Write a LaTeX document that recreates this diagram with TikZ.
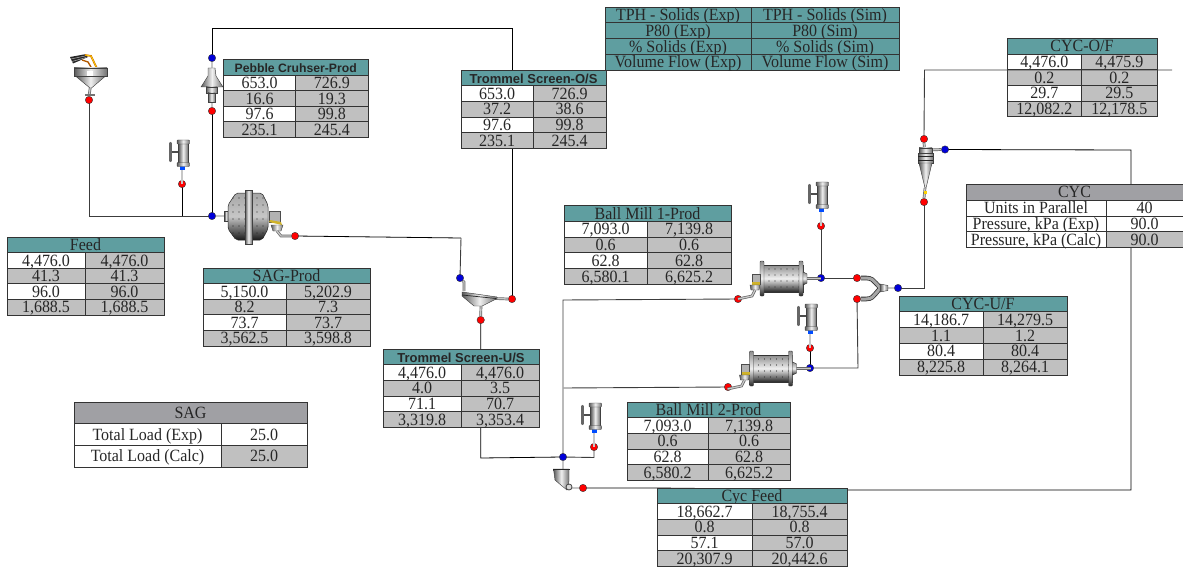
\documentclass[tikz,border=0pt]{standalone}
\usepackage{fontspec}
\setmainfont[FakeStretch=.93]{Liberation Serif}
\newfontfamily\hsans{Liberation Sans}
\usetikzlibrary{backgrounds}
\definecolor{tealhead}{HTML}{5F9EA0}
\definecolor{grayhead}{HTML}{A0A0A4}
\definecolor{cellgray}{HTML}{C0C0C0}
\definecolor{pipedark}{HTML}{3C3C3C}
\newcommand\fsz{\fontsize{17.2}{17}\selectfont}
\newcommand\tsm{\hsans\bfseries\fontsize{12.2}{12}\selectfont}
\newcommand\tmd{\hsans\bfseries\fontsize{13}{13}\selectfont}
\tikzset{
  x=1pt,y=-1pt,
  cell/.style={draw=black!80,line width=.95pt,inner sep=0pt,text height=11.6pt,text depth=.3pt,align=center,font=\fsz,text=black!85},
  redp/.style={circle,draw=black!80,line width=.4pt,fill=red,minimum size=7.4pt,inner sep=0pt},
  bluep/.style={circle,draw=black!80,line width=.4pt,fill=blue!85!black,minimum size=7.4pt,inner sep=0pt},
  conn/.style={draw=black,line width=.8pt},
  conng/.style={draw=pipedark,line width=.9pt},
  stub/.style={draw=black!60,double=black!22,double distance=1.3pt,line width=.7pt},
  metal/.style={draw=black!75,line width=.45pt,left color=black!65,right color=black!55,middle color=black!6},
  drum/.style={draw=black!80,line width=.45pt,top color=black!45,bottom color=black!85,middle color=black!6},
  sagbody/.style={draw=black!85,line width=.5pt,top color=black!35,bottom color=black!90,middle color=black!22},
}
% table helpers -----------------------------------------------------
\newcommand\tabstart[7]{% name x0 xm x1 y0 rowh titlefill
  \gdef\tn{#1}\gdef\txa{#2}\gdef\txm{#3}\gdef\txb{#4}\gdef\tyc{#5}\gdef\trh{#6}\gdef\trn{0}\gdef\tfl{#7}}
\newcommand\tabtitle[2]{% font, text
  \pgfmathsetmacro\tw{\txb-\txa}\pgfmathsetmacro\cx{(\txa+\txb)/2}\pgfmathsetmacro\cy{\tyc+\trh/2}
  \node[cell,fill=\tfl,minimum width=\tw pt,minimum height=\trh pt,font=#1] (\tn-t) at (\cx,\cy) {#2};
  \pgfmathsetmacro\ny{\tyc+\trh}\xdef\tyc{\ny}}
\newcommand\tabrow[4]{% left fill, right fill, left, right
  \pgfmathsetmacro\wl{\txm-\txa}\pgfmathsetmacro\wr{\txb-\txm}
  \pgfmathsetmacro\cl{(\txa+\txm)/2}\pgfmathsetmacro\cr{(\txm+\txb)/2}
  \pgfmathsetmacro\cy{\tyc+\trh/2}
  \pgfmathtruncatemacro\nr{\trn+1}\xdef\trn{\nr}
  \node[cell,fill=#1,minimum width=\wl pt,minimum height=\trh pt] (\tn-\trn l) at (\cl,\cy) {#3};
  \node[cell,fill=#2,minimum width=\wr pt,minimum height=\trh pt] (\tn-\trn r) at (\cr,\cy) {#4};
  \pgfmathsetmacro\ny{\tyc+\trh}\xdef\tyc{\ny}}
\newcommand\stdrows[8]{%
  \tabrow{white}{cellgray}{#1}{#2}\tabrow{cellgray}{cellgray}{#3}{#4}%
  \tabrow{white}{cellgray}{#5}{#6}\tabrow{cellgray}{cellgray}{#7}{#8}}
% icons -------------------------------------------------------------
\newcommand\valveicon[2]{\begin{scope}[shift={(#1,#2)}]
  \draw[stub] (0,0) -- (0,-16);
  \fill[blue!70!cyan] (-2.5,-19) rectangle (2.5,-14);
  \draw[black!70,line width=2pt] (-4,-32) -- (-11,-32);
  \draw[black!60,line width=2.2pt,line cap=round] (-11.5,-41) -- (-11.5,-23);
  \shade[metal] (-3.5,-42) rectangle (6,-20);
  \shade[metal,rounded corners=.8pt] (-5,-44) rectangle (7.5,-40);
  \shade[metal,rounded corners=.8pt] (-5,-21.5) rectangle (7.5,-17.5);
\end{scope}}
\newcommand\ballmill[2]{\begin{scope}[shift={(#1,#2)}]
  \draw[stub] (40,13.5) -- (58,13.5);
  \shade[drum] (0,0) rectangle (40,27);
  \foreach \dx in {5,11,...,35} \foreach \dy in {3,9,15,21} \fill[black!80] (\dx+1,\dy+1) circle (.6);
  \shade[drum,rounded corners=1pt] (-3,-4) rectangle (1,31);
  \shade[drum,rounded corners=1pt] (36,-4) rectangle (40,31);
  \shade[drum] (40,7) -- (44,9) -- (44,18) -- (40,20) -- cycle;
  \fill[black!30] (-11,9) rectangle (-3,19);
  \draw[black!70,line width=.4pt] (-11,9) rectangle (-3,19);
  \fill[yellow!70!orange!80!black] (-11,17) rectangle (-3,20);
  \shade[metal] (-13,20) -- (-3,20) -- (-4,25) -- (-12,25) -- cycle;
  \draw[stub] (-8,25) -- (-11,31) -- (-25,34);
\end{scope}}
\begin{document}
\begin{tikzpicture}
\useasboundingbox (0,0) rectangle (1183,567);
% ---- connection points
\node[redp] (feedout) at (89,100) {};
\node[redp] (v1out) at (182,184) {};
\node[redp] (crushout) at (212,111) {};
\node[bluep] (crushin) at (212,58) {};
\node[bluep] (sagin) at (212,216) {};
\node[redp] (sagout) at (295,236) {};
\node[bluep] (scrin) at (460,278) {};
\node[redp] (scros) at (512,299) {};
\node[redp] (scrus) at (480.7,320) {};
\node[bluep] (sump) at (563,457) {};
\node[redp] (v4out) at (594,447) {};
\node[redp] (sumpout) at (583,488) {};
\node[redp] (bm1out) at (738,299) {};
\node[redp] (bm2out) at (728,387) {};
\node[bluep] (bm1in) at (821,278) {};
\node[redp] (v2out) at (821,226) {};
\node[bluep] (bm2in) at (810,368) {};
\node[redp] (v3out) at (810,348) {};
\node[redp] (jin1) at (857,278) {};
\node[redp] (jin2) at (857,299) {};
\node[bluep] (jout) at (898,288) {};
\node[redp] (cycuf) at (924,202) {};
\node[redp] (cycof) at (924,139) {};
\node[bluep] (cycin) at (945,149.5) {};
\coordinate (ofend) at (1172,70);
% ---- connectors (behind tables)
\begin{pgfonlayer}{background}
\draw[conng] (feedout.center) -- (89,216) -- (sagin.center);
\draw[conn] (v1out.center) -- (182,216);
\draw[conn] (crushout.center) -- (sagin.center);
\draw[conn] (crushin.center) -- (212,28) -- (512,28) -- (scros.center);
\draw[conn] (sagout.center) -- (461,238);
\draw[conng] (461,238) -- (scrin.center);
\draw[conn] (scrus.center) -- (480.7,458) -- (sump.center);
\draw[conng] (sump.center) -- (594,457.5) -- (v4out.center);
\draw[conng] (sump.center) -- (563,300) -- (bm1out.center);
\draw[conng] (563.5,388) -- (bm2out.center);
\draw[conn] (sumpout.center) -- (657,488) -- (847,490) -- (1131,490) -- (1131,150) -- (cycin.center);
\draw[conng] (bm1in.center) -- (v2out.center);
\draw[conng] (bm1in.center) -- (jin1.center);
\draw[conng] (jin2.center) -- (858,368) -- (bm2in.center);
\draw[conn] (bm2in.center) -- (v3out.center);
\draw[conng] (jout.center) -- (924,288) -- (cycuf.center);
\end{pgfonlayer}
% ---- feeder
\draw[stub] (90.5,86) -- (feedout.north);
\draw[black!55,line width=1.2pt] (85,95) -- (95,95);
\fill[black!85] (70,57) -- (85,54.3) -- (88,57) -- (73,63.5) -- cycle;
\draw[black!30,line width=.5pt] (71,59) -- (85,56) (72,61.5) -- (86,57.5);
\draw[orange!80!black,line width=1.8pt] (85,55) -- (91,56) -- (96.5,67.5);
\draw[yellow!70!orange,line width=.8pt] (85,55) -- (91,56) -- (96.5,67.5);
\draw[orange!70!black,line width=1.4pt] (82,60) -- (88,62) -- (91,67);
\shade[metal] (76,76.5) -- (105,76.5) -- (91.5,88) -- (90,88) -- cycle;
\shade[metal] (74,68) rectangle (107,76.5);
\fill[white] (87,71) rectangle (93,76);
% ---- pebble crusher
\draw[stub] (crushin.south) -- (212,70);
\draw[stub] (212,98) -- (crushout.north);
\shade[metal] (208,68) -- (215,68) -- (216,76) -- (223,87) -- (201,87) -- (208,76) -- cycle;
\shade[metal] (206,87) rectangle (217,93);
\shade[metal] (208,93) rectangle (215,102);
% ---- SAG mill
\draw[stub] (sagin.east) -- (228,216);
\shade[metal] (224.5,211) rectangle (228,221);
\shade[sagbody,rounded corners=2pt] (228,205) -- (236,193) -- (262,193) -- (268,205) -- (268,229) -- (262,240) -- (236,240) -- (228,229) -- cycle;
\foreach \dx in {233,239,...,263} \foreach \dy in {198,205,...,236} \fill[black!85] (\dx,\dy) circle (.55);
\shade[metal] (245,190) rectangle (252,244);
\fill[black!30] (269,211) rectangle (280,222);
\draw[black!70,line width=.4pt] (269,211) rectangle (280,222);
\fill[yellow!70!orange!80!black] (270,220) -- (269,222) -- (282,225) -- (281,222) -- cycle;
\shade[metal] (271,225) -- (283,225) -- (281,231) -- (273,231) -- cycle;
\draw[stub] (277,231) -- (281,236) -- (sagout.west);
% ---- trommel screen
\draw[stub] (scrin.south east) -- (464,282) -- (464,291);
\draw[stub] (495,298.5) -- (scros.west);
\draw[stub] (481,305) -- (scrus.north);
\shade[metal] (462,292) -- (497,297) -- (497,298.5) -- (482,306) -- (474,306) -- (462,296) -- cycle;
\draw[black!85,line width=.7pt] (462,295) -- (496,298.5);
% ---- sump
\draw[stub] (sump.south) -- (563,470);
\draw[stub] (568,488) -- (sumpout.west);
\shade[metal] (553.5,469) -- (569,469) -- (569,481) -- (567,490) -- (562,486) -- (555,480) -- cycle;
\draw[black!85,line width=.8pt] (553,469) -- (570,469);
\draw[black!75,fill=black!15,line width=.8pt] (569,487) circle (3);
% ---- cyclone
\draw[stub] (cycof.south) -- (924.5,149);
\draw[stub] (930,150) -- (cycin.west);
\draw[stub] (925,188) -- (cycuf.north);
\shade[metal] (919,148) rectangle (932,153);
\shade[metal] (918,153) rectangle (933,163);
\draw[black!85,line width=.6pt] (918,156) -- (933,156) (918,160) -- (933,160);
\shade[metal] (919,163) -- (932,163) -- (926,188) -- (925,188) -- cycle;
\fill[yellow!70!orange] (924,191) rectangle (926.5,194);
% ---- junction
\draw[black!80,line width=4.6pt] (jin1.east) -- (866,278) .. controls (877,278) and (875,288) .. (884,288);
\draw[black!80,line width=4.6pt] (jin2.east) -- (866,299) .. controls (877,299) and (875,288) .. (884,288);
\draw[black!35,line width=3pt] (jin1.east) -- (866,278) .. controls (877,278) and (875,288) .. (884,288);
\draw[black!35,line width=3pt] (jin2.east) -- (866,299) .. controls (877,299) and (875,288) .. (884,288);
\draw[stub] (884,288) -- (jout.west);
\shade[metal] (880,284) -- (888,285.5) -- (888,290.5) -- (880,292) -- cycle;
% ---- valves and ball mills
\valveicon{182}{184}
\valveicon{821}{226}
\valveicon{810}{348}
\valveicon{594}{447}
\ballmill{763}{265}
\ballmill{752.5}{355}
% ---- tables
\tabstart{leg}{605}{751}{899}{7}{15.75}{tealhead}
\tabrow{tealhead}{tealhead}{TPH - Solids (Exp)}{TPH - Solids (Sim)}
\tabrow{tealhead}{tealhead}{P80 (Exp)}{P80 (Sim)}
\tabrow{tealhead}{tealhead}{\% Solids (Exp)}{\% Solids (Sim)}
\tabrow{tealhead}{tealhead}{Volume Flow (Exp)}{Volume Flow (Sim)}

\tabstart{feed}{7}{85}{164}{237}{15.6}{tealhead}\tabtitle{\fsz}{Feed}
\stdrows{4,476.0}{4,476.0}{41.3}{41.3}{96.0}{96.0}{1,688.5}{1,688.5}

\tabstart{peb}{223.5}{295.7}{368}{59.5}{15.6}{tealhead}\tabtitle{\tsm}{Pebble Cruhser-Prod}
\stdrows{653.0}{726.9}{16.6}{19.3}{97.6}{99.8}{235.1}{245.4}

\tabstart{tos}{461}{533}{606}{70}{15.7}{tealhead}\tabtitle{\tmd}{Trommel Screen-O/S}
\stdrows{653.0}{726.9}{37.2}{38.6}{97.6}{99.8}{235.1}{245.4}

\tabstart{sagp}{203}{286}{370}{268}{15.6}{tealhead}\tabtitle{\fsz}{SAG-Prod}
\stdrows{5,150.0}{5,202.9}{8.2}{7.3}{73.7}{73.7}{3,562.5}{3,598.8}

\tabstart{tus}{383}{461}{539}{349}{15.7}{tealhead}\tabtitle{\tmd}{Trommel Screen-U/S}
\stdrows{4,476.0}{4,476.0}{4.0}{3.5}{71.1}{70.7}{3,319.8}{3,353.4}

\tabstart{bm1}{564}{647}{731}{205.7}{15.7}{tealhead}\tabtitle{\fsz}{Ball Mill 1-Prod}
\stdrows{7,093.0}{7,139.8}{0.6}{0.6}{62.8}{62.8}{6,580.1}{6,625.2}

\tabstart{bm2}{627}{708}{790}{402}{15.7}{tealhead}\tabtitle{\fsz}{Ball Mill 2-Prod}
\stdrows{7,093.0}{7,139.8}{0.6}{0.6}{62.8}{62.8}{6,580.2}{6,625.2}

\tabstart{cfd}{657}{752}{847}{488}{15.7}{tealhead}\tabtitle{\fsz}{Cyc Feed}
\stdrows{18,662.7}{18,755.4}{0.8}{0.8}{57.1}{57.0}{20,307.9}{20,442.6}

\tabstart{cof}{1007}{1081.7}{1157}{38.3}{15.7}{tealhead}\tabtitle{\fsz}{CYC-O/F}
\stdrows{4,476.0}{4,475.9}{0.2}{0.2}{29.7}{29.5}{12,082.2}{12,178.5}

\tabstart{cuf}{899}{983}{1067}{296}{15.8}{tealhead}\tabtitle{\fsz}{CYC-U/F}
\stdrows{14,186.7}{14,279.5}{1.1}{1.2}{80.4}{80.4}{8,225.8}{8,264.1}

\tabstart{cyc}{966}{1106}{1183}{184.3}{15.85}{grayhead}\tabtitle{\fsz}{CYC}
\tabrow{white}{white}{Units in Parallel}{40}
\tabrow{white}{white}{Pressure, kPa (Exp)}{90.0}
\tabrow{white}{cellgray}{Pressure, kPa (Calc)}{90.0}

\tabstart{sag}{74}{221}{307}{402}{21.7}{grayhead}\tabtitle{\fsz}{SAG}
\tabrow{white}{white}{Total Load (Exp)}{25.0}
\tabrow{white}{cellgray}{Total Load (Calc)}{25.0}
% ---- overflow line runs across the table
\draw[conng] (cycof.north) -- (924.5,70) -- (ofend);
\end{tikzpicture}
\end{document}
